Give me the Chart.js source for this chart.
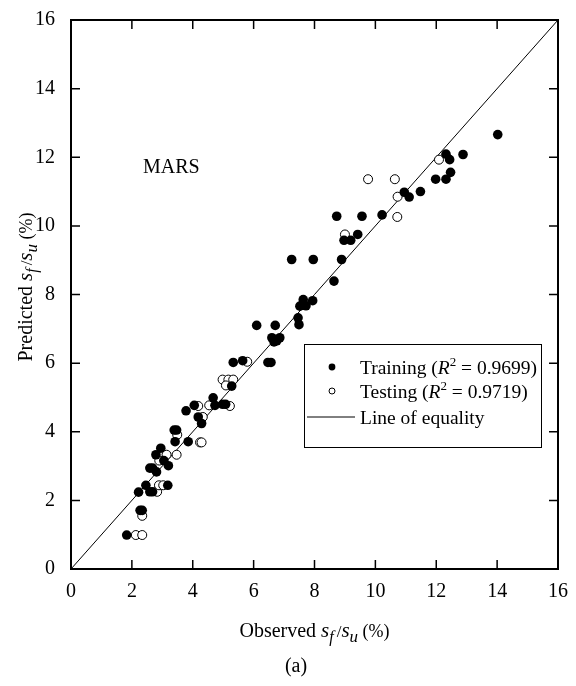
<!DOCTYPE html>
<html>
<head>
<meta charset="utf-8">
<script src="https://cdn.jsdelivr.net/npm/chart.js@4.4.0/dist/chart.umd.min.js"></script>
<style>
  html, body { margin: 0; padding: 0; background: #fff; }
  #wrap { width: 576px; height: 686px; }
</style>
</head>
<body>
<div id="wrap"><canvas id="chart" width="576" height="686"></canvas></div>
<script>
// Observed vs predicted s_f/s_u (%), MARS model
const trainX = [1.83, 2.27, 2.34, 2.22, 2.46, 2.59, 2.68, 3.18, 2.59, 2.68, 2.81, 2.79, 2.95, 3.05, 3.20, 3.39, 3.47, 3.42, 3.85, 3.78,
    4.05, 4.18, 4.29, 4.67, 4.73, 4.98, 5.08, 5.28, 5.33, 5.64, 6.57, 6.47, 6.10, 6.71, 6.60, 6.76, 6.86, 6.67, 7.46, 7.49,
    7.52, 7.63, 7.72, 7.94, 8.64, 7.25, 7.96, 8.89, 8.73, 9.56, 10.22, 8.97, 9.19, 9.42, 10.95, 11.11, 11.48, 11.98, 12.32, 12.47,
    12.32, 12.44, 12.88, 14.02];
const trainY = [0.99, 1.71, 1.71, 2.24, 2.44, 2.25, 2.25, 2.44, 2.94, 2.94, 2.83, 3.33, 3.52, 3.16, 3.01, 4.05, 4.05, 3.71, 3.71, 4.61,
    4.77, 4.43, 4.24, 4.99, 4.77, 4.80, 4.80, 5.33, 6.02, 6.07, 6.02, 6.02, 7.10, 7.10, 6.74, 6.65, 6.74, 6.62, 7.32, 7.12,
    7.66, 7.85, 7.67, 7.82, 8.39, 9.02, 9.02, 9.02, 10.28, 10.28, 10.32, 9.58, 9.58, 9.75, 10.98, 10.84, 11.00, 11.36, 11.36, 11.56,
    12.09, 11.93, 12.08, 12.66];
const testX = [2.13, 2.34, 2.34, 2.83, 2.89, 3.03, 2.90, 3.14, 3.47, 3.49, 4.24, 4.29, 4.18, 4.33, 4.54, 5.22, 4.98, 5.17, 5.33, 5.09,
    5.79, 9.00, 9.76, 10.64, 10.73, 10.72, 12.09];
const testY = [0.99, 0.99, 1.55, 2.25, 2.44, 2.44, 3.16, 3.33, 3.33, 3.91, 3.69, 3.69, 4.75, 4.43, 4.77, 4.75, 5.52, 5.52, 5.52, 5.35,
    6.04, 9.75, 11.36, 11.36, 10.85, 10.26, 11.93];
const equalityX = [0, 16];
const equalityY = [0, 16];
const tickValues = [0, 2, 4, 6, 8, 10, 12, 14, 16];

const SERIF = '"Liberation Serif", "Times New Roman", serif';
const toPoints = (xs, ys) => xs.map((x, i) => ({ x, y: ys[i] }));

// draws a run of text pieces (italic, sub/superscript) starting at x, or centered
function drawRich(ctx, parts, x, y, align) {
    const fontOf = p => `${p.italic ? 'italic ' : ''}${p.size}px ${SERIF}`;
    let total = 0;
    parts.forEach(p => { ctx.font = fontOf(p); total += ctx.measureText(p.t).width + (p.gap || 0); });
    let cx = align === 'center' ? x - total / 2 : x;
    ctx.textBaseline = 'alphabetic';
    ctx.textAlign = 'left';
    parts.forEach(p => {
        ctx.font = fontOf(p);
        ctx.fillText(p.t, cx, y + (p.dy || 0));
        cx += ctx.measureText(p.t).width + (p.gap || 0);
    });
    return total;
}

const ratioParts = () => [
    { t: 's', italic: true, size: 21 },
    { t: 'f', italic: true, size: 16, dy: 5, gap: 3 },
    { t: '/', size: 17 },
    { t: 's', italic: true, size: 21 },
    { t: 'u', italic: true, size: 17, dy: 5 },
    { t: ' (%)', size: 18 }
];

const framePlugin = {
    id: 'framePlugin',
    afterDraw(chart) {
        const { ctx, chartArea: a, scales: { x, y } } = chart;
        ctx.save();
        ctx.fillStyle = '#000';
        ctx.strokeStyle = '#000';

        // inward tick marks on all four sides
        ctx.lineWidth = 1.5;
        ctx.beginPath();
        tickValues.forEach(v => {
            const px = x.getPixelForValue(v);
            ctx.moveTo(px, a.bottom); ctx.lineTo(px, a.bottom - 9);
            ctx.moveTo(px, a.top); ctx.lineTo(px, a.top + 9);
            const py = y.getPixelForValue(v);
            ctx.moveTo(a.left, py); ctx.lineTo(a.left + 9, py);
            ctx.moveTo(a.right, py); ctx.lineTo(a.right - 9, py);
        });
        ctx.stroke();

        ctx.lineWidth = 2;
        ctx.strokeRect(a.left, a.top, a.width, a.height);

        // model label
        drawRich(ctx, [{ t: 'MARS', size: 20 }], 143, 173);

        // legend box
        const lx = 304, ly = 344, lw = 237, lh = 103;
        ctx.fillStyle = '#fff';
        ctx.fillRect(lx, ly, lw, lh);
        ctx.lineWidth = 1;
        ctx.strokeRect(lx + 0.5, ly + 0.5, lw, lh);
        ctx.fillStyle = '#000';

        ctx.beginPath();
        ctx.arc(332, 367, 3.4, 0, Math.PI * 2);
        ctx.fill();
        ctx.beginPath();
        ctx.arc(332, 391, 3, 0, Math.PI * 2);
        ctx.stroke();
        ctx.beginPath();
        ctx.moveTo(307, 417); ctx.lineTo(355, 417);
        ctx.stroke();

        const r2 = (label, val) => [
            { t: label + ' (', size: 19.5 },
            { t: 'R', italic: true, size: 19.5 },
            { t: '2', size: 13, dy: -8 },
            { t: ' = ' + val + ')', size: 19.5 }
        ];
        drawRich(ctx, r2('Training', '0.9699'), 360, 374);
        drawRich(ctx, r2('Testing', '0.9719'), 360, 398);
        drawRich(ctx, [{ t: 'Line of equality', size: 19.5 }], 360, 424);

        // axis titles
        drawRich(ctx, [{ t: 'Observed ', size: 20 }].concat(ratioParts()), (a.left + a.right) / 2, 637, 'center');
        drawRich(ctx, [{ t: '(a)', size: 20 }], 296, 672, 'center');

        ctx.translate(32, 287);
        ctx.rotate(-Math.PI / 2);
        drawRich(ctx, [{ t: 'Predicted ', size: 20 }].concat(ratioParts()), 0, 0, 'center');
        ctx.restore();
    }
};

const axisOptions = (padding) => ({
    type: 'linear',
    min: 0,
    max: 16,
    grid: { display: false },
    border: { display: false },
    ticks: {
        stepSize: 2,
        padding,
        color: '#000',
        font: { family: SERIF, size: 20 }
    }
});

const xAxis = axisOptions(3);
xAxis.afterFit = scale => { scale.height = 117; };
const yAxis = axisOptions(8);
yAxis.afterFit = scale => { scale.width = 71; };

new Chart(document.getElementById('chart'), {
    type: 'scatter',
    data: {
        datasets: [
            {
                label: 'Line of equality',
                data: toPoints(equalityX, equalityY),
                showLine: true,
                borderColor: '#000',
                borderWidth: 1,
                pointRadius: 0,
                order: 3
            },
            {
                label: 'Testing',
                data: toPoints(testX, testY),
                pointRadius: 4.5,
                backgroundColor: '#fff',
                borderColor: '#000',
                borderWidth: 1,
                order: 2
            },
            {
                label: 'Training',
                data: toPoints(trainX, trainY),
                pointRadius: 4.8,
                backgroundColor: '#000',
                borderColor: '#000',
                borderWidth: 0,
                order: 1
            }
        ]
    },
    options: {
        responsive: false,
        animation: false,
        devicePixelRatio: 1,
        layout: { padding: { top: 14, right: 18, left: 0, bottom: 0 } },
        plugins: { legend: { display: false }, tooltip: { enabled: false } },
        scales: { x: xAxis, y: yAxis }
    },
    plugins: [framePlugin]
});
</script>
</body>
</html>
